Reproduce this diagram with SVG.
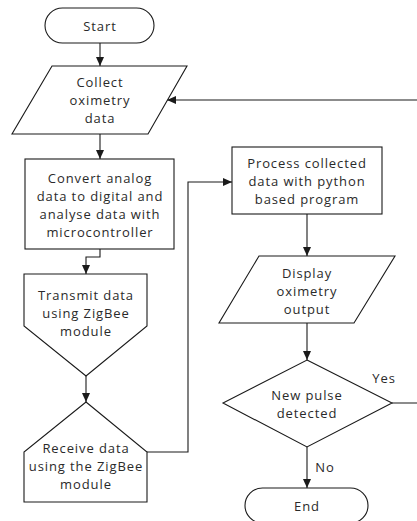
<svg xmlns="http://www.w3.org/2000/svg" width="417" height="521" viewBox="0 0 417 521">
<defs>
<style>
.s{fill:#fff;stroke:#1a1a1a;stroke-width:1.1}
.c{fill:none;stroke:#1a1a1a;stroke-width:1.1}
text{font-family:"Open Sans","Liberation Sans",sans-serif;font-size:13px;letter-spacing:0.9px;fill:#2a2a2a;text-anchor:middle;dominant-baseline:central}
</style>
<marker id="ah" markerUnits="userSpaceOnUse" markerWidth="10" markerHeight="10" viewBox="0 0 10 10" refX="9" refY="5" orient="auto">
<path d="M0,1 L9,5 L0,9 z" fill="#1a1a1a"/>
</marker>
</defs>
<rect width="417" height="521" fill="#fff"/>
<g id="connectors">
<path class="c" d="M100,43 V66" marker-end="url(#ah)"/>
<path class="c" d="M100,134 V159" marker-end="url(#ah)"/>
<path class="c" d="M100,249 V257 H86 V274" marker-end="url(#ah)"/>
<path class="c" d="M86,376 V402" marker-end="url(#ah)"/>
<path class="c" d="M147,452 H188 V182 H232" marker-end="url(#ah)"/>
<path class="c" d="M307,214 V256" marker-end="url(#ah)"/>
<path class="c" d="M307,323 V360" marker-end="url(#ah)"/>
<path class="c" d="M307,447 V488" marker-end="url(#ah)"/>
<path class="c" d="M392,403 H420 V100 H167" marker-end="url(#ah)"/>
<text x="384" y="378">Yes</text>
<text x="325" y="467">No</text>
</g>
<g id="start">
<rect class="s" x="45" y="8" width="109" height="35" rx="17.5"/>
<text x="100" y="26">Start</text>
</g>
<g id="collect">
<path class="s" d="M52,66 H187 L148,134 H12 z"/>
<text x="100" y="82">Collect</text>
<text x="100" y="100">oximetry</text>
<text x="100" y="118">data</text>
</g>
<g id="convert">
<rect class="s" x="25" y="159" width="149" height="90"/>
<text x="100" y="178">Convert analog</text>
<text x="100" y="196">data to digital and</text>
<text x="100" y="214">analyse data with</text>
<text x="100" y="232">microcontroller</text>
</g>
<g id="transmit">
<path class="s" d="M24,274 H147 V326 L86,376 L24,326 z"/>
<text x="86" y="295">Transmit data</text>
<text x="86" y="313">using ZigBee</text>
<text x="86" y="331">module</text>
</g>
<g id="receive">
<path class="s" d="M86,402 L147,452 V502 H24 V452 z"/>
<text x="86" y="448">Receive data</text>
<text x="86" y="466">using the ZigBee</text>
<text x="86" y="484">module</text>
</g>
<g id="process">
<rect class="s" x="232" y="147" width="150" height="67"/>
<text x="307" y="163">Process collected</text>
<text x="307" y="181">data with python</text>
<text x="307" y="199">based program</text>
</g>
<g id="display">
<path class="s" d="M259,256 H395 L354,323 H219 z"/>
<text x="307" y="273">Display</text>
<text x="307" y="291">oximetry</text>
<text x="307" y="309">output</text>
</g>
<g id="decision">
<path class="s" d="M307,360 L392,403 L307,447 L223,403 z"/>
<text x="307" y="395">New pulse</text>
<text x="307" y="413">detected</text>
</g>
<g id="end">
<rect class="s" x="245" y="488" width="123" height="35" rx="17.5"/>
<text x="307" y="506">End</text>
</g>
</svg>
